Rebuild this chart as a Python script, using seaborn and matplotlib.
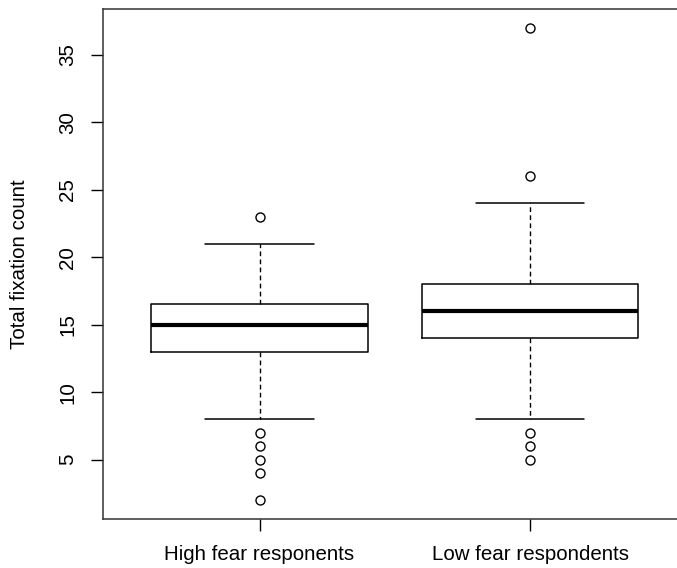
import matplotlib
matplotlib.use("Agg")
import matplotlib.pyplot as plt
import numpy as np
import pandas as pd
import seaborn as sns

# fixation counts per respondent
high_fear = [2, 4, 5, 6, 7, 8, 9, 10, 11, 12, 13, 13, 13, 14, 14, 14, 14,
             15, 15, 15, 15, 15, 15, 15, 16, 16, 16, 16, 16, 16, 16, 16,
             17, 17, 17, 18, 18, 19, 19, 20, 21, 21, 23]
low_fear = [5, 6, 7, 8, 9, 10, 11, 12, 12, 13, 14, 14, 14, 15, 15, 15, 15,
            16, 16, 16, 16, 16, 17, 17, 17, 17, 18, 18, 18, 18, 18, 19, 19,
            20, 20, 21, 22, 23, 24, 26, 37]
groups = ["High fear responents", "Low fear respondents"]
yticks = [5, 10, 15, 20, 25, 30, 35]

df = pd.DataFrame({
    "group": [groups[0]] * len(high_fear) + [groups[1]] * len(low_fear),
    "count": high_fear + low_fear,
})

sns.set_style("white")
plt.rcParams["font.family"] = ["Liberation Sans", "DejaVu Sans"]
plt.rcParams["text.color"] = "black"
plt.rcParams["xtick.color"] = "black"
plt.rcParams["ytick.color"] = "black"
plt.rcParams["axes.labelcolor"] = "black"

fig = plt.figure(figsize=(6.77, 5.68), dpi=100)
# the original plot is cut off on the right, so the axes run past the edge
ax = fig.add_axes([103 / 677, 1 - 519 / 568, 587 / 677, 510 / 568])

sns.boxplot(data=df, x="group", y="count", order=groups, ax=ax,
            width=0.8, whis=1.5, fill=False, color="black", linewidth=1,
            capwidths=0.4,
            boxprops=dict(color="black", linewidth=1.1),
            medianprops=dict(color="black", linewidth=3),
            whiskerprops=dict(color="black", linewidth=1, linestyle=(0, (3.4, 2.4))),
            capprops=dict(color="black", linewidth=1.1),
            flierprops=dict(marker="o", markersize=6.5, markerfacecolor="none",
                            markeredgecolor="black", markeredgewidth=1))

ax.set_xlim(-0.5786, 1.5915)
ax.set_ylim(0.6, 38.4)
ax.set_yticks(yticks)
ax.set_yticklabels([str(v) for v in yticks], rotation=90, va="center")
ax.set_xlabel("")
ax.set_ylabel("Total fixation count", fontsize=14.8, labelpad=21)
ax.tick_params(axis="both", direction="out", length=8.5, width=1, color="black",
               labelsize=14.8, pad=10, left=True, bottom=True)
for s in ax.spines.values():
    s.set_visible(True)
    s.set_color("#333333")
    s.set_linewidth(1.1)

fig.savefig("out.png", dpi=100)
